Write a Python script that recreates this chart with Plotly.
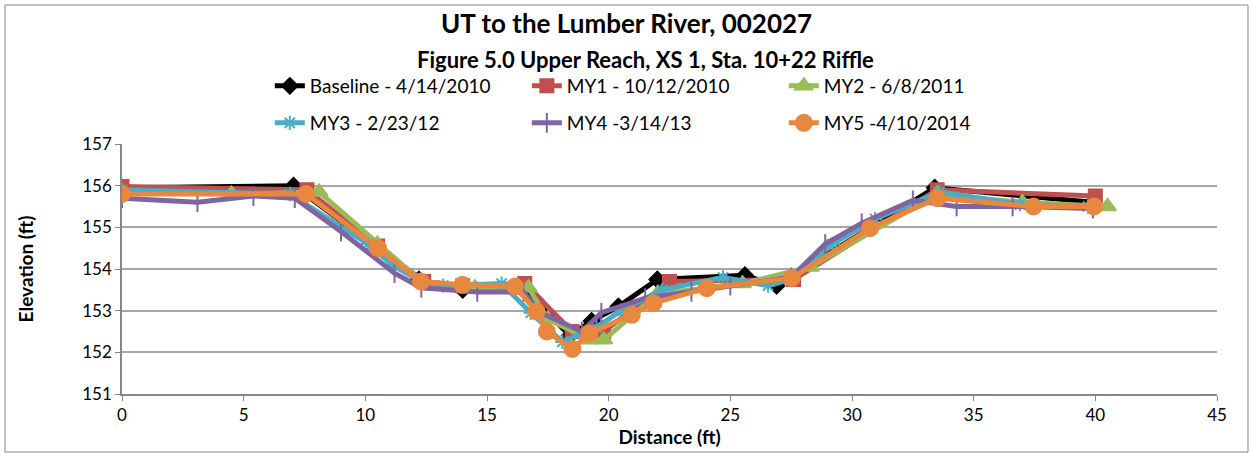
import plotly.graph_objects as go

# ---- data ----
base_x = [0, 7.05, 10.5, 12.2, 14.0, 16.5, 17.0, 18.4, 19.3, 20.4, 22.0, 25.6, 26.9, 33.4, 39.9]
base_y = [155.95, 156.0, 154.5, 153.75, 153.5, 153.55, 153.25, 152.4, 152.75, 153.1, 153.75, 153.85, 153.6, 155.95, 155.6]

my1_x = [0, 7.6, 10.5, 12.4, 14.0, 16.55, 18.5, 19.8, 22.5, 27.6, 33.5, 40.0]
my1_y = [155.98, 155.9, 154.55, 153.7, 153.6, 153.65, 152.5, 152.5, 153.7, 153.75, 155.9, 155.75]

my2_x = [0, 4.5, 8.1, 10.5, 12.3, 14.5, 16.7, 17.5, 19.2, 19.8, 22.0, 25.5, 28.3, 33.5, 37.0, 40.5]
my2_y = [155.85, 155.8, 155.85, 154.6, 153.7, 153.55, 153.55, 152.8, 152.3, 152.3, 153.4, 153.65, 154.05, 155.8, 155.6, 155.5]

my3_x = [0, 6.9, 10.1, 11.1, 12.3, 13.2, 15.6, 16.8, 18.1, 19.5, 20.5, 22.2, 24.7, 26.55, 27.5, 29.2, 30.95, 33.6, 36.9, 39.7]
my3_y = [155.9, 155.8, 154.6, 154.1, 153.7, 153.6, 153.65, 152.95, 152.25, 152.6, 153.0, 153.5, 153.8, 153.6, 153.75, 154.6, 155.2, 155.85, 155.55, 155.5]

my4_x = [0, 3.1, 5.4, 7.1, 9.0, 11.2, 12.3, 14.6, 16.5, 17.2, 18.9, 19.7, 21.5, 23.4, 25.0, 27.5, 28.9, 30.4, 32.5, 34.3, 36.6, 39.9]
my4_y = [155.7, 155.6, 155.75, 155.7, 154.9, 153.9, 153.55, 153.45, 153.45, 152.95, 152.5, 152.95, 153.3, 153.45, 153.6, 153.8, 154.6, 155.1, 155.65, 155.5, 155.5, 155.45]

my5_x = [0, 7.56, 10.52, 12.28, 13.99, 16.15, 17.04, 17.46, 18.51, 19.21, 20.95, 21.84, 24.03, 27.52, 30.74, 33.51, 37.46, 39.95]
my5_y = [155.8, 155.8, 154.5, 153.7, 153.62, 153.58, 152.98, 152.5, 152.08, 152.46, 152.9, 153.18, 153.54, 153.78, 154.98, 155.7, 155.5, 155.5]

names = ["Baseline - 4/14/2010", "MY1 - 10/12/2010", "MY2 - 6/8/2011",
         "MY3 - 2/23/12", "MY4 -3/14/13", "MY5 -4/10/2014"]

title_text = "UT to the Lumber River, 002027"
subtitle_text = "Figure 5.0 Upper Reach, XS 1, Sta. 10+22 Riffle"

FONT = "Lato"

series = [
    (base_x, base_y, "#000000", "diamond", 12, "legend"),
    (my1_x, my1_y, "#C0504D", "square", 13, "legend"),
    (my2_x, my2_y, "#9BBB59", "triangle-up", 15, "legend"),
    (my3_x, my3_y, "#4BACC6", "asterisk-open", 12, "legend2"),
    (my4_x, my4_y, "#8064A2", "line-ns-open", 14, "legend2"),
    (my5_x, my5_y, "#E8883E", "circle", 16, "legend2"),
]

fig = go.Figure()
for (xs, ys, col, sym, sz, lg), nm in zip(series, names):
    fig.add_trace(go.Scatter(
        x=xs, y=ys, name=nm, mode="lines+markers", legend=lg,
        line=dict(color=col, width=5),
        marker=dict(color=col, symbol=sym, size=sz,
                    line=dict(color=col, width=2)),
    ))

# plot area: x 122..1217 px, y 144..394 px
def py(p):
    return (394 - p) / 250

def px(p):
    return (p - 122) / 1095

fig.update_layout(
    width=1253, height=458,
    margin=dict(l=122, r=36, t=144, b=64, autoexpand=False),
    paper_bgcolor="white", plot_bgcolor="white",
    font=dict(family=FONT, size=17, color="black"),
    legend=dict(orientation="h", x=0.135, y=py(86), xanchor="left", yanchor="middle",
                entrywidth=212, entrywidthmode="pixels",
                font=dict(family=FONT, size=19), bgcolor="rgba(0,0,0,0)"),
    legend2=dict(orientation="h", x=0.135, y=py(123), xanchor="left", yanchor="middle",
                 entrywidth=212, entrywidthmode="pixels",
                 font=dict(family=FONT, size=19), bgcolor="rgba(0,0,0,0)"),
    xaxis=dict(range=[0, 45], dtick=5, showgrid=False, zeroline=False,
               showline=True, linecolor="#868686", linewidth=1.5,
               ticks="outside", ticklen=5, tickcolor="#868686",
               tickfont=dict(family=FONT, size=17),
               title=dict(text="<b>Distance (ft)</b>", standoff=0,
                          font=dict(family=FONT, size=19))),
    yaxis=dict(range=[151, 157], dtick=1, showgrid=True, gridcolor="#A6A6A6",
               gridwidth=1.5, zeroline=False,
               showline=True, linecolor="#868686", linewidth=1.5,
               ticks="outside", ticklen=5, tickcolor="#868686",
               tickfont=dict(family=FONT, size=17),
               title=dict(text="<b>Elevation (ft)</b>", standoff=44,
                          font=dict(family=FONT, size=19))),
    annotations=[
        dict(text="<b>" + title_text + "</b>", xref="paper", yref="paper",
             x=px(626), y=py(23), xanchor="center", yanchor="middle", showarrow=False,
             font=dict(family=FONT, size=26)),
        dict(text="<b>" + subtitle_text + "</b>", xref="paper", yref="paper",
             x=px(645), y=py(60), xanchor="center", yanchor="middle",
             showarrow=False, font=dict(family=FONT, size=22)),
    ],
)

fig.add_shape(type="rect", xref="paper", yref="paper",
              x0=px(5), x1=px(1248), y0=py(452), y1=py(5),
              line=dict(color="#868686", width=1), fillcolor="rgba(0,0,0,0)",
              layer="below")

fig.write_html("out.html", config={"displayModeBar": False},
               post_script="document.body.style.margin='0';document.body.style.overflow='hidden';")
